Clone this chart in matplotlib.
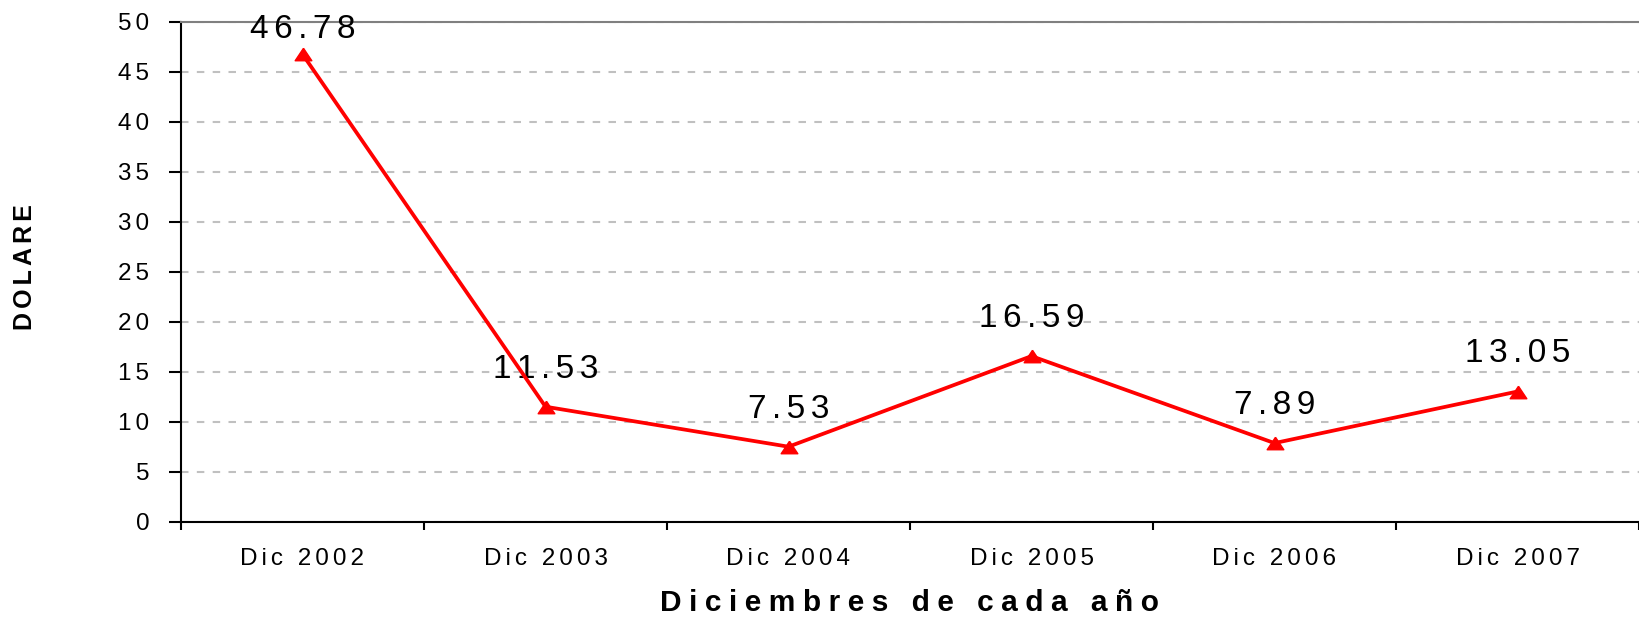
import numpy as np
import matplotlib
matplotlib.use("Agg")
import matplotlib.pyplot as plt
from matplotlib.path import Path

years = ["Dic 2002", "Dic 2003", "Dic 2004", "Dic 2005", "Dic 2006", "Dic 2007"]
dolares = [46.78, 11.53, 7.53, 16.59, 7.89, 13.05]
y_ticks = [0, 5, 10, 15, 20, 25, 30, 35, 40, 45, 50]

plt.rcParams['font.family'] = ['Liberation Sans', 'DejaVu Sans']

SIXTH = "\u2006"     # 1/6 em, used as letter spacing
QUARTER = "\u2005"   # 1/4 em, for the bold axis titles


def spaced(text, gap=SIXTH):
    return gap.join(text)


fig = plt.figure(figsize=(16.39, 6.21), dpi=100)
ax = fig.add_axes([181 / 1639, 99 / 621, 1 - 181 / 1639, 500 / 621])

x = np.arange(len(years))

# flattened triangle marker
tri = Path([(0, 0.75), (1, -0.75), (-1, -0.75), (0, 0.75)])
ax.plot(x, dolares, color="#ff0000", lw=2.7, marker=tri, ms=12,
        mec="#ff0000", mfc="#ff0000", zorder=4, clip_on=False)

for xi, v in zip(x, dolares):
    dy = 21 if v < 45 else 12
    ax.annotate(spaced(f"{v:.2f}"), (xi, v), xytext=(0, dy),
                textcoords="offset points", ha="center", va="baseline",
                fontsize=24, color="black", zorder=3)

ax.set_xlim(-0.5, len(years) - 0.5)
ax.set_ylim(0, 50)

# boundaries between categories carry the tick marks, centres carry the names
ax.set_xticks(np.arange(len(years) + 1) - 0.5)
ax.set_xticklabels([])
ax.set_xticks(x, minor=True)
ax.set_xticklabels([spaced(s) for s in years], minor=True)
ax.tick_params(axis="x", which="major", length=5.8, width=1.5, color="black")
ax.tick_params(axis="x", which="minor", length=0, pad=19.0, labelsize=17.5)

ax.set_yticks(y_ticks)
ax.set_yticklabels([spaced(str(t)) for t in y_ticks])
ax.tick_params(axis="y", length=8.6, width=1.5, pad=14.3, labelsize=17.5)

ax.yaxis.grid(True, color="#c0c0c0", lw=1.5, linestyle=(0, (3.6, 4.0)), zorder=0)
ax.set_axisbelow(True)

for side in ["left", "bottom"]:
    ax.spines[side].set_linewidth(1.5)
    ax.spines[side].set_color("black")
ax.spines["top"].set_color("#808080")
ax.spines["top"].set_linewidth(1.5)
ax.spines["right"].set_visible(False)

ax.set_xlabel(spaced("Diciembres de cada año", QUARTER), fontsize=21.5,
              fontweight="bold", labelpad=13.5)

fig.text(32 / 1639, 1 - 330 / 621, spaced("DOLARE"), rotation=90,
         rotation_mode="anchor", ha="left", va="baseline",
         fontsize=18, fontweight="bold")

fig.savefig("out.png", dpi=100)
